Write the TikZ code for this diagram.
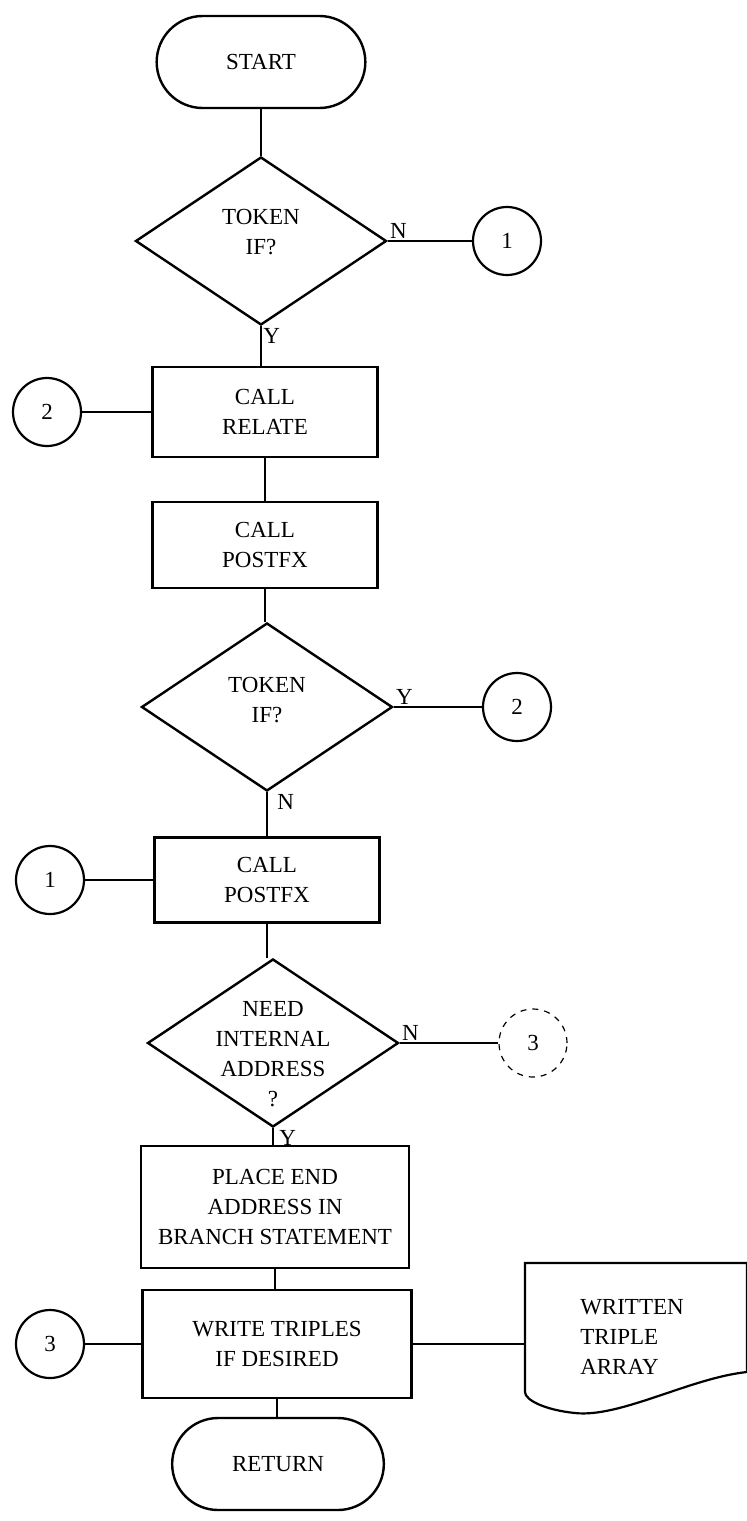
\documentclass[tikz,border=0pt]{standalone}
\usepackage{fontspec}
\setmainfont{Liberation Serif}
\usetikzlibrary{shapes.geometric,shapes.misc}

\newcommand{\fsz}{\fontsize{11.5}{15}\selectfont}

\tikzset{
  term/.style={draw, line width=1.2pt, rounded rectangle, minimum width=111pt, minimum height=46pt, font=\fsz},
  proc/.style={draw, line width=1.2pt, rectangle, minimum width=112.5pt, align=center, font=\fsz},
  dec/.style={draw, line width=1.2pt, diamond, minimum width=125.5pt, minimum height=84pt, inner sep=0pt},
  conn/.style={draw, line width=1.1pt, circle, minimum size=34pt, inner sep=0pt, font=\fsz},
  txt/.style={align=center, font=\fsz, inner sep=0pt},
  lab/.style={inner sep=1pt, font=\fsz},
  link/.style={line width=1.2pt}
}

\begin{document}
\begin{tikzpicture}[x=0.5pt,y=-0.5pt]

\useasboundingbox (0,0) rectangle (747,1521);

\node[term] (start) at (261,62) {START};

\node[dec] (q1) at (261,241) {};
\node[txt] (q1t) at (261,232) {TOKEN\\IF?};
\node[conn] (c1a) at (507,241) {1};

\node[proc, minimum height=45pt] (relate) at (265,412) {CALL\\RELATE};
\node[conn] (c2a) at (47,412) {2};

\node[proc, minimum height=43pt] (post1) at (265,545) {CALL\\POSTFX};

\node[dec] (q2) at (267,707) {};
\node[txt] (q2t) at (267,700) {TOKEN\\IF?};
\node[conn] (c2b) at (517,707) {2};

\node[proc, minimum height=42.5pt] (post2) at (267,880) {CALL\\POSTFX};
\node[conn] (c1b) at (50,880) {1};

\node[dec] (q3) at (273,1043) {};
\node[txt] (q3t) at (273,1054) {NEED\\INTERNAL\\ADDRESS\\?};
\node[conn, dashed, line width=0.6pt] (c3a) at (533,1043) {3};

\node[proc, minimum width=134pt, minimum height=61pt] (place) at (275,1207) {PLACE END\\ADDRESS IN\\BRANCH STATEMENT};

\node[proc, minimum width=134.5pt, minimum height=54pt] (write) at (277,1344) {WRITE TRIPLES\\IF DESIRED};
\node[conn] (c3b) at (50,1344) {3};

\draw[line width=1.1pt] (525,1263) -- (747,1263) -- (747,1372)
  .. controls (690,1378) and (620,1418) .. (575,1413)
  .. controls (545,1410) and (525,1400) .. (525,1392) -- cycle;
\node[align=left, font=\fsz] (doc) at (632,1337) {WRITTEN\\TRIPLE\\ARRAY};
\coordinate (docw) at (525,1344);

\node[term, minimum width=112.5pt] (ret) at (278,1464) {RETURN};

\node[lab, anchor=south west] (n1) at (q1.east) {N};
\node[lab, anchor=north west] (y1) at (q1.south) {Y};
\node[lab, anchor=south west] (y2) at (q2.east) {Y};
\node[lab, anchor=north west, xshift=4pt] (n2) at (q2.south) {N};
\node[lab, anchor=south west] (n3) at (q3.east) {N};
\node[lab, anchor=north west, xshift=2pt] (y3) at (q3.south) {Y};

\draw[link] (start.south) -- (q1.north);
\draw[link] (q1.east) -- (c1a.west);
\draw[link] (q1.south) -- (q1.south |- relate.north);
\draw[link] (c2a.east) -- (relate.west);
\draw[link] (relate.south) -- (post1.north);
\draw[link] (post1.south) -- (post1.south |- q2.north);
\draw[link] (q2.east) -- (c2b.west);
\draw[link] (q2.south) -- (post2.north);
\draw[link] (c1b.east) -- (post2.west);
\draw[link] (post2.south) -- (post2.south |- q3.north);
\draw[link] (q3.east) -- (c3a.west);
\draw[link] (q3.south) -- (q3.south |- place.north);
\draw[link] (place.south) -- (place.south |- write.north);
\draw[link] (c3b.east) -- (write.west);
\draw[link] (write.east) -- (docw);
\draw[link] (write.south) -- (write.south |- ret.north);

\end{tikzpicture}
\end{document}
